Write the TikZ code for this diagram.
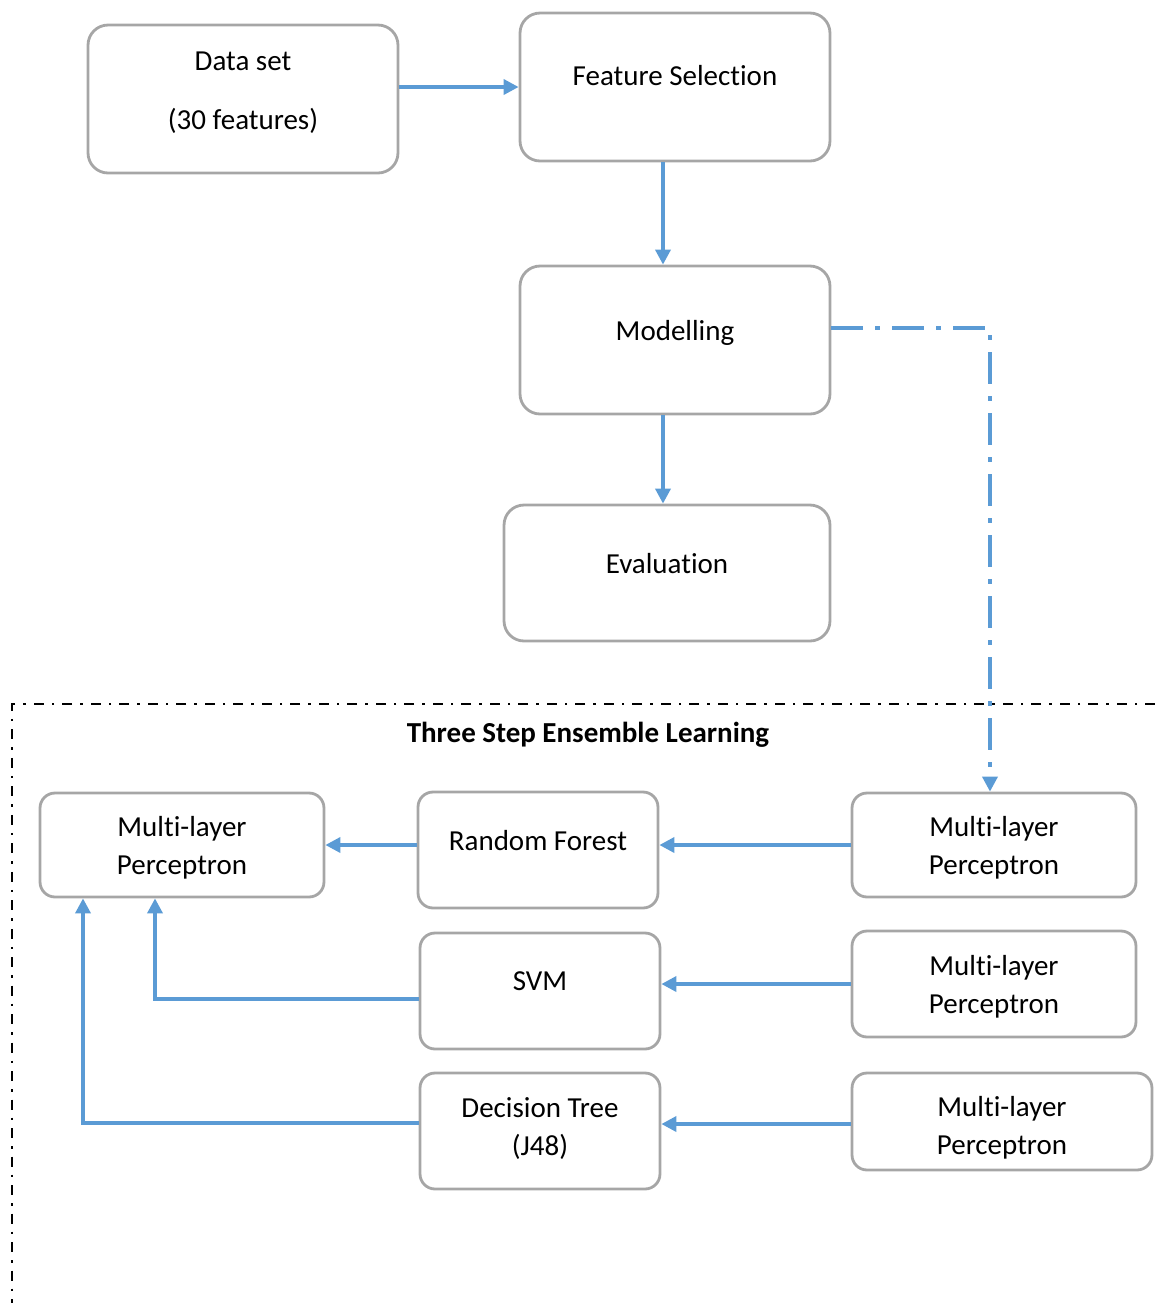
\documentclass[tikz,border=0pt]{standalone}
\usepackage{fontspec}
\setmainfont{Carlito}[Ligatures=NoCommon]
\usetikzlibrary{arrows.meta}
\definecolor{flow}{HTML}{5B9BD5}
\definecolor{edge}{HTML}{A6A6A6}
\tikzset{
  stage/.style={draw=edge, line width=1.6pt, rounded corners=0.4cm, align=center,
    font=\fontsize{16.5}{21.6}\selectfont, minimum width=6.2cm, minimum height=2.96cm},
  algo/.style={draw=edge, line width=1.6pt, rounded corners=0.3cm, align=center,
    font=\fontsize{16.5}{21.6}\selectfont, minimum width=4.8cm, minimum height=2.32cm},
  mlp/.style={algo, minimum width=5.68cm, minimum height=2.08cm, text depth=0pt},
  lifted/.style={text depth=11pt},
  link/.style={draw=flow, line width=2pt, -{Triangle[length=0.3cm,width=0.3cm]}},
  jump/.style={link, dash pattern=on 0.64cm off 0.24cm on 0.1cm off 0.24cm},
  border/.style={draw=black, line width=1.5pt, dash pattern=on 0.2cm off 0.16cm on 0.05cm off 0.16cm}
}
\begin{document}
\begin{tikzpicture}[x=0.02cm, y=-0.02cm, line cap=butt, line join=miter]
  \useasboundingbox (0,0) rectangle (1155,1303);
  % upper flow
  \node[stage, text depth=9.6pt] (data) at (243,99) {Data set\\[12pt](30 features)};
  \node[stage, text depth=13pt] (featsel) at (675,87) {Feature Selection};
  \node[stage, lifted] (model) at (675,340) {Modelling};
  \node[stage, lifted, minimum width=6.52cm, minimum height=2.72cm] (evalu) at (667,573) {Evaluation};
  \draw[link] (data.east |- featsel.west) -- (featsel.west);
  \draw[link] ([xshift=-0.24cm]featsel.south) -- ([xshift=-0.24cm]model.north);
  \draw[link] ([xshift=-0.24cm]model.south) -- ([xshift=-0.24cm]model.south |- evalu.north);
  % ensemble frame
  \draw[border] (1155,704) -- (12,704) -- (12,1303);
  \node[font=\fontsize{16.5}{20}\selectfont\bfseries] (title) at (588,735) {Three Step Ensemble Learning};
  \node[mlp] (mlpA) at (182,845) {Multi-layer\\Perceptron};
  \node[algo, lifted] (rf) at (538,850) {Random Forest};
  \node[algo, lifted] (svm) at (540,991) {SVM};
  \node[algo, text depth=4.6pt] (dt) at (540,1131) {Decision Tree\\(J48)};
  \node[mlp] (mlpB) at (994,845) {Multi-layer\\Perceptron};
  \node[mlp, minimum height=2.12cm] (mlpC) at (994,984) {Multi-layer\\Perceptron};
  \node[mlp, minimum width=6cm, minimum height=1.94cm, text height=37pt] (mlpD) at (1002,1121.5) {Multi-layer\\Perceptron};
  \draw[jump] ([yshift=0.24cm]model.east) -| ([xshift=-0.08cm]mlpB.north);
  \draw[link] (mlpB.west) -- (mlpB.west -| rf.east);
  \draw[link] (rf.west |- mlpA.east) -- (mlpA.east);
  \draw[link] (mlpC.west) -- (mlpC.west -| svm.east);
  \draw[link] ([yshift=-0.05cm]mlpD.west) -- ([yshift=-0.05cm]mlpD.west -| dt.east);
  \draw[link] ([yshift=-0.16cm]svm.west) -| ([xshift=-0.54cm]mlpA.south);
  \draw[link] ([yshift=0.16cm]dt.west) -| ([xshift=-1.98cm]mlpA.south);
\end{tikzpicture}
\end{document}
